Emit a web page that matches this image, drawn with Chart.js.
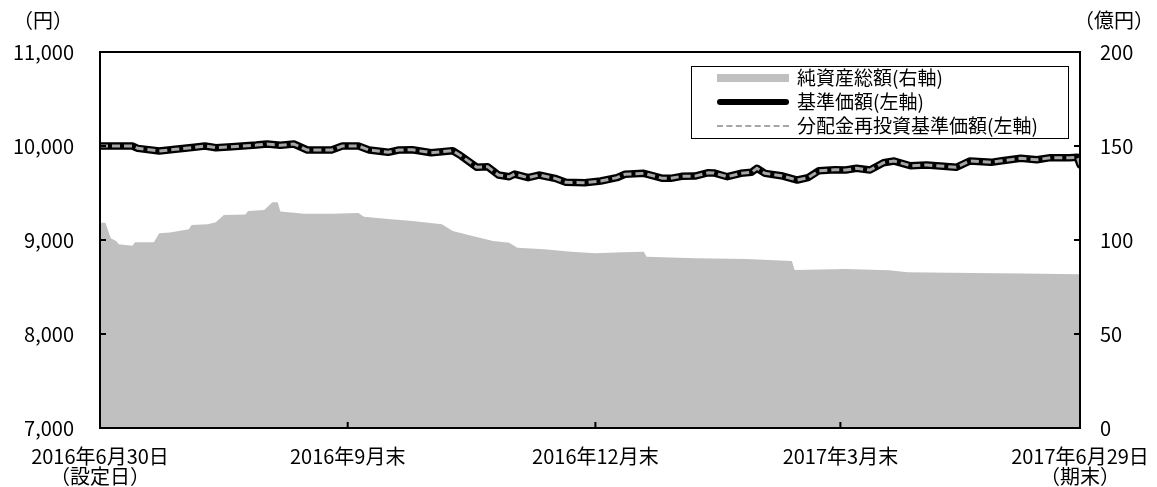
<!DOCTYPE html>
<html>
<head>
<meta charset="utf-8">
<script src="https://cdn.jsdelivr.net/npm/chart.js@4"></script>
<style>
  body { margin: 0; background: #fff; font-family: "Noto Sans CJK JP", sans-serif; }
  #wrap { position: relative; width: 1157px; height: 487px; }
  .unit { position: absolute; font-size: 20px; color: #000; line-height: 20px; }
  #legend { position: absolute; left: 691px; top: 66px; width: 376px; height: 71px;
            border: 1px solid #000; background: #fff; font-size: 19px; line-height: 20px; }
  .row { position: absolute; left: 0; height: 24px; }
  .sample { position: absolute; left: 25px; width: 72px; }
  .label { position: absolute; left: 105px; white-space: nowrap; }
</style>
</head>
<body>
<div id="wrap">
  <canvas id="chart"></canvas>
  <div class="unit" style="left:13px; top:10px;">（円）</div>
  <div class="unit" style="left:1074px; top:10px;">（億円）</div>
  <div id="legend">
    <div class="row" style="top:0px;"><div class="sample" style="top:7px; height:8px; background:#c0c0c0;"></div><div class="label" style="top:0px;">純資産総額(右軸)</div></div>
    <div class="row" style="top:24px;"><div class="sample" style="top:8px; height:6px; background:#000; border-radius:3px;"></div><div class="label" style="top:0px;">基準価額(左軸)</div></div>
    <div class="row" style="top:48px;"><div class="sample" style="top:10px; height:0; border-top:2px dashed #a6a6a6;"></div><div class="label" style="top:0px;">分配金再投資基準価額(左軸)</div></div>
  </div>
</div>
<script>
// days counted from 2016-06-30 (設定日)
const tickDays = [0, 92, 184, 275, 364];
const tickLabels = [['2016年6月30日', '（設定日）'], '2016年9月末', '2016年12月末', '2017年3月末', ['2017年6月29日', '（期末）']];

// 基準価額 (円)
const priceDays = [0, 12, 14, 22, 28, 35, 39, 43, 49, 58, 62, 67, 72, 77, 86, 90, 96, 100, 107, 111, 116, 123, 131, 134, 140, 144, 148, 152, 154, 159, 163, 169, 173, 180, 186, 192, 195, 202, 209, 212, 216, 221, 226, 228, 233, 238, 242, 244, 247, 253, 259, 263, 267, 273, 277, 281, 286, 291, 295, 301, 307, 312, 318, 323, 331, 335, 342, 348, 353, 360, 363, 364];
const basePrice = [10000, 10000, 9975, 9947, 9965, 9986, 10000, 9982, 9993, 10010, 10021, 10007, 10021, 9957, 9957, 10000, 10000, 9957, 9933, 9957, 9960, 9929, 9950, 9897, 9773, 9780, 9691, 9673, 9702, 9663, 9691, 9656, 9614, 9610, 9628, 9663, 9699, 9709, 9656, 9656, 9677, 9680, 9716, 9714, 9673, 9709, 9720, 9763, 9709, 9684, 9638, 9663, 9737, 9748, 9744, 9763, 9744, 9822, 9840, 9790, 9798, 9787, 9773, 9840, 9826, 9843, 9869, 9854, 9876, 9876, 9880, 9800];
// no distributions, so the reinvested price equals the base price
const reinvestPrice = basePrice.slice();

// 純資産総額 (億円)
const assetDays = [0, 2, 4, 6, 7, 12, 13, 20, 22, 26, 33, 34, 40, 43, 46, 54, 55, 61, 64, 66, 67, 76, 86, 96, 98, 107, 116, 127, 131, 138, 146, 152, 155, 165, 175, 184, 194, 202, 203, 221, 240, 257, 258, 277, 293, 300, 324, 343, 364];
const netAssets = [109.2, 109.2, 100.9, 99.5, 97.7, 97.0, 98.8, 98.8, 103.6, 104.0, 105.7, 108.0, 108.4, 109.4, 113.3, 113.6, 115.4, 116.0, 120.1, 120.1, 115.1, 114.0, 114.0, 114.4, 112.4, 111.2, 110.1, 108.4, 104.8, 102.3, 99.5, 98.5, 95.9, 95.1, 93.8, 92.9, 93.5, 93.8, 91.1, 90.3, 89.9, 88.8, 84.1, 84.6, 83.9, 82.8, 82.5, 82.2, 81.8];

const pts = (xs, ys) => xs.map((x, i) => ({ x: x, y: ys[i] }));
const axisFont = { family: '"Noto Sans CJK JP", sans-serif', size: 20, lineHeight: 1 };

// frame round the plot and short ticks pointing inwards
const framePlugin = {
  id: 'frame',
  afterDatasetsDraw(chart) {
    const { ctx, chartArea: a, scales } = chart;
    ctx.save();
    ctx.strokeStyle = '#000';
    ctx.lineWidth = 2;
    ctx.strokeRect(a.left, a.top, a.right - a.left, a.bottom - a.top);
    ctx.beginPath();
    [8000, 9000, 10000].forEach(v => {
      const y = scales.y.getPixelForValue(v);
      ctx.moveTo(a.left, y); ctx.lineTo(a.left + 6, y);
    });
    [50, 100, 150].forEach(v => {
      const y = scales.y2.getPixelForValue(v);
      ctx.moveTo(a.right, y); ctx.lineTo(a.right - 6, y);
    });
    tickDays.slice(1, -1).forEach(d => {
      const x = scales.x.getPixelForValue(d);
      ctx.moveTo(x, a.bottom); ctx.lineTo(x, a.bottom - 6);
    });
    ctx.stroke();
    ctx.restore();
  }
};

new Chart(document.getElementById('chart'), {
  type: 'line',
  data: {
    datasets: [
      { label: '分配金再投資基準価額(左軸)', data: pts(priceDays, reinvestPrice), yAxisID: 'y', borderColor: '#a6a6a6', borderWidth: 3, borderDash: [8, 4], pointRadius: 0, tension: 0, order: 1 },
      { label: '基準価額(左軸)', data: pts(priceDays, basePrice), yAxisID: 'y', borderColor: '#000', borderWidth: 7.5, borderCapStyle: 'round', borderJoinStyle: 'round', pointRadius: 0, tension: 0, order: 2 },
      { label: '純資産総額(右軸)', data: pts(assetDays, netAssets), yAxisID: 'y2', borderWidth: 0, backgroundColor: '#c0c0c0', fill: 'origin', pointRadius: 0, tension: 0, order: 3 }
    ]
  },
  options: {
    responsive: true,
    maintainAspectRatio: false,
    animation: false,
    layout: { padding: { top: 52, left: 0, right: 0, bottom: 0 } },
    plugins: { legend: { display: false }, tooltip: { enabled: false } },
    scales: {
      x: {
        type: 'linear', min: 0, max: 364,
        afterBuildTicks: scale => { scale.ticks = tickDays.map(v => ({ value: v })); },
        afterFit: scale => { scale.height = 59; scale.paddingLeft = 0; scale.paddingRight = 0; },
        ticks: { autoSkip: false, maxRotation: 0, padding: 18, color: '#000', font: axisFont,
                 callback: v => tickLabels[tickDays.indexOf(v)] },
        grid: { display: false, drawTicks: false }, border: { display: false }
      },
      y: {
        position: 'left', min: 7000, max: 11000,
        afterFit: scale => { scale.width = 100; },
        ticks: { stepSize: 1000, padding: 26, color: '#000', font: axisFont,
                 callback: v => v.toLocaleString('en-US') },
        grid: { display: false, drawTicks: false }, border: { display: false }
      },
      y2: {
        position: 'right', min: 0, max: 200,
        afterFit: scale => { scale.width = 77; },
        ticks: { stepSize: 50, padding: 20, color: '#000', font: axisFont },
        grid: { display: false, drawTicks: false }, border: { display: false }
      }
    }
  },
  plugins: [framePlugin]
});
</script>
</body>
</html>
